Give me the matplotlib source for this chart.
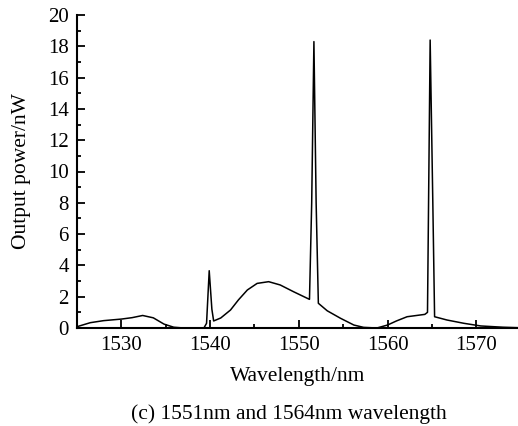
import matplotlib
matplotlib.use('Agg')
import matplotlib.pyplot as plt
from matplotlib.ticker import MultipleLocator

plt.rcParams['font.family'] = ['Liberation Serif', 'DejaVu Serif']

# spectrum (nm, nW)
wavelength = [1525.1, 1526.5, 1528.0, 1530.0, 1531.2, 1532.4, 1533.6, 1534.8,
              1535.9, 1537.0, 1539.3, 1539.6, 1539.9, 1540.2, 1540.4, 1541.2,
              1542.3, 1543.2, 1544.2, 1545.3, 1546.6, 1547.9, 1549.4, 1551.2,
              1551.45, 1551.7, 1551.95, 1552.2, 1553.2, 1554.7, 1556.2, 1557.3,
              1558.8, 1560.0, 1561.0, 1562.2, 1564.2, 1564.5, 1564.8, 1565.1,
              1565.3, 1566.7, 1568.6, 1570.5, 1573.0, 1574.7]
power = [0.10, 0.34, 0.47, 0.57, 0.66, 0.80, 0.65, 0.25,
         0.05, 0.0, 0.0, 0.3, 3.66, 1.2, 0.45, 0.64,
         1.15, 1.80, 2.43, 2.85, 2.96, 2.75, 2.32, 1.83,
         8.0, 18.3, 8.0, 1.58, 1.10, 0.62, 0.19, 0.04,
         0.0, 0.19, 0.45, 0.72, 0.87, 1.0, 18.4, 8.0,
         0.72, 0.51, 0.30, 0.13, 0.05, 0.02]

xticks = [1530, 1540, 1550, 1560, 1570]
yticks = [0, 2, 4, 6, 8, 10, 12, 14, 16, 18, 20]

fig = plt.figure(figsize=(5.18, 4.26), dpi=100)
ax = fig.add_axes([77 / 518, 1 - 328 / 426, 441 / 518, 313 / 426])

ax.plot(wavelength, power, color='black', linewidth=1.1)

ax.set_xlim(1525, 1574.7)
ax.set_ylim(0, 20)
ax.set_xticks(xticks)
ax.set_yticks(yticks)
ax.xaxis.set_minor_locator(MultipleLocator(5))
ax.yaxis.set_minor_locator(MultipleLocator(1))
ax.tick_params(which='both', direction='in', labelsize=15, width=1.3)
ax.tick_params(which='major', length=6)
ax.tick_params(which='minor', length=3)
ax.tick_params(axis='y', pad=6)
ax.tick_params(axis='x', pad=6)

ax.spines['top'].set_visible(False)
ax.spines['right'].set_visible(False)
ax.spines['left'].set_linewidth(1.5)
ax.spines['bottom'].set_linewidth(1.5)

ax.set_xlabel('Wavelength/nm', fontsize=15.5)
ax.set_ylabel('Output power/nW', fontsize=15.5)
ax.xaxis.set_label_coords(0.5, -0.125)
ax.yaxis.set_label_coords(-0.105, 0.5)

fig.text(0.557, 1 - 414 / 426, '(c) 1551nm and 1564nm wavelength',
         fontsize=15.5, ha='center', va='center')

fig.savefig('out.png', dpi=100)
